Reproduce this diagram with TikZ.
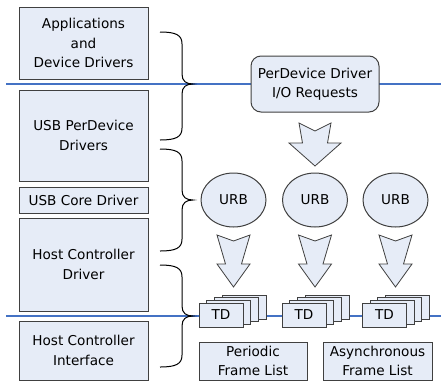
\documentclass[tikz,border=0pt]{standalone}
\usepackage{fontspec}
\setmainfont{DejaVu Sans}
\usetikzlibrary{shapes.geometric}
\definecolor{boxfill}{HTML}{E6ECF7}
\definecolor{boxline}{HTML}{404040}
\definecolor{sepblue}{HTML}{4472C4}
\newcommand{\bracefig}[3]{%
  \draw[bracestyle] (160,#1) .. controls (176,#1) and (182,#1+3) .. (182,#1+12)
    -- (182,#2-10) .. controls (182,#2-3) and (186,#2) .. (193,#2)
    .. controls (186,#2) and (182,#2+3) .. (182,#2+10)
    -- (182,#3-12) .. controls (182,#3-3) and (176,#3) .. (160,#3);}
\begin{document}
\begin{tikzpicture}[x=1pt,y=-1pt,
  txt/.style={font=\fontsize{13.6}{19.5}\selectfont},
  box/.style={draw=boxline, fill=boxfill, line width=1pt, align=center, inner sep=0pt, txt},
  leftbox/.style={box, minimum width=129pt},
  card/.style={box, minimum width=44pt, minimum height=24pt},
  urb/.style={box, ellipse, minimum width=65pt, minimum height=54pt},
  blockarrow/.style={draw=boxline, fill=boxfill, line width=0.8pt, line join=miter},
  sepline/.style={draw=sepblue, line width=1.6pt},
  bracestyle/.style={draw=black, line width=1pt}]
\useasboundingbox (0,0) rectangle (441,381);

% separator lines
\coordinate (s1a) at (6,84);
\coordinate (s1b) at (441,84);
\coordinate (s2a) at (6,316);
\coordinate (s2b) at (441,316);
\draw[sepline] (s1a) -- (s1b);
\draw[sepline] (s2a) -- (s2b);

% left boxes
\node[leftbox, minimum height=72pt] (app) at (83.5,43) {Applications\\and\\Device Drivers};
\node[leftbox, minimum height=91pt] (usbpd) at (83.5,135.5) {USB PerDevice\\Drivers};
\node[leftbox, minimum height=26pt] (core) at (83.5,200) {USB Core Driver};
\node[leftbox, minimum height=93pt] (hcd) at (83.5,264.5) {Host Controller\\Driver};
\node[leftbox, minimum height=59pt] (hci) at (83.5,350.5) {Host Controller\\Interface};

% braces
\bracefig{32}{84}{140}
\bracefig{149}{200}{251}
\bracefig{265}{316}{367}

% request box
\node[box, rounded corners=10pt, minimum width=128pt, minimum height=56pt] (req) at (315,84) {PerDevice Driver\\I/O Requests};

% big arrow
\begin{scope}[shift={(315,0)}]
\draw[blockarrow] (-16,123) -- (0,131) -- (16,123) -- (12.5,143) -- (26,143) -- (0,166) -- (-26,143) -- (-12.5,143) -- cycle;
\end{scope}

% URBs
\node[urb] (u1) at (233.5,200) {URB};
\node[urb] (u2) at (315,200) {URB};
\node[urb] (u3) at (395.5,200) {URB};

% small arrows
\foreach \cx in {233.5,315,395.5}{
\begin{scope}[shift={(\cx,0)}]
\draw[blockarrow] (-16.5,235) -- (0,241) -- (16.5,235) -- (8,264) -- (16.5,264) -- (0,287) -- (-16.5,264) -- (-8,264) -- cycle;
\end{scope}}

% TD stacks
\foreach \n/\cx in {1/221,2/304,3/384.5}{
  \node[card] (td\n c) at (\cx+23.1,307) {};
  \node[card] (td\n b) at (\cx+15.4,309.6) {};
  \node[card] (td\n a) at (\cx+7.7,312.3) {};
  \node[card] (td\n) at (\cx,315) {TD};
}

% frame lists
\node[box, minimum width=108pt, minimum height=38pt] (pfl) at (253,361) {Periodic\\Frame List};
\node[box, minimum width=109pt, minimum height=38pt] (afl) at (377.5,361) {Asynchronous\\Frame List};
\end{tikzpicture}
\end{document}
